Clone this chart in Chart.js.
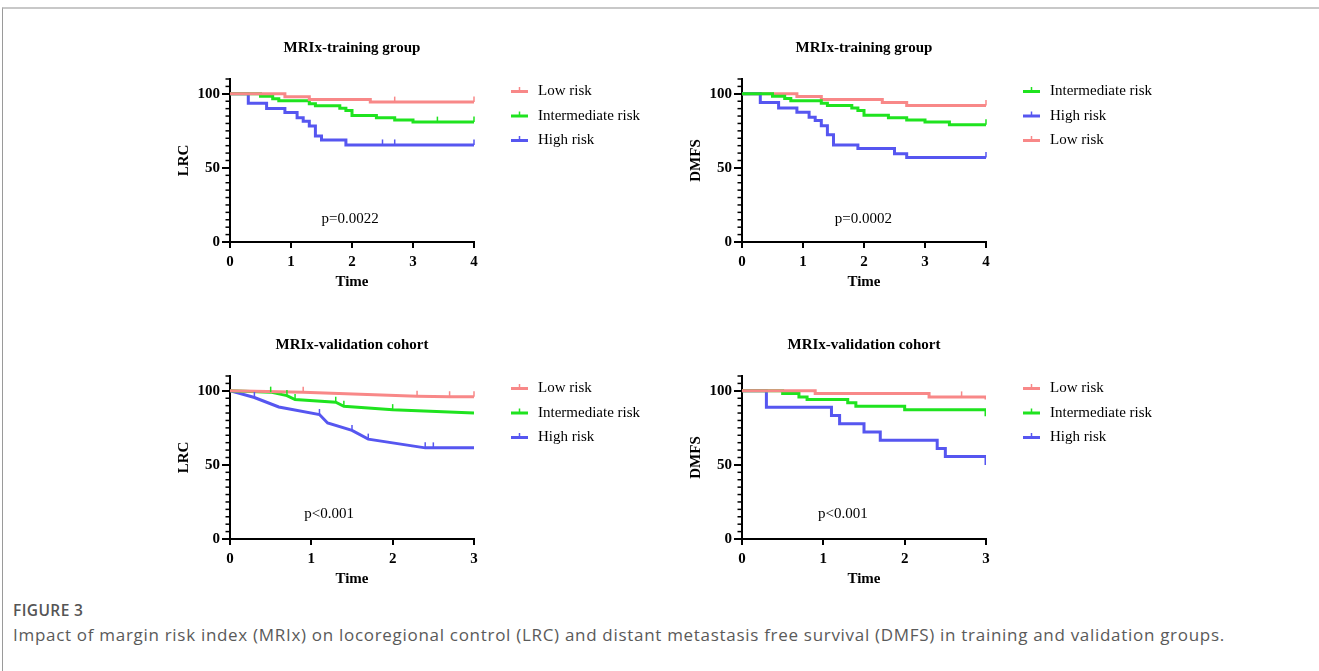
<!DOCTYPE html>
<html>
<head>
<meta charset="utf-8">
<script src="https://cdn.jsdelivr.net/npm/chart.js@4.4.0/dist/chart.umd.min.js"></script>
<style>
body { margin: 0; background: #fff; width: 1319px; height: 671px; overflow: hidden; position: relative; }
.frame { position: absolute; left: 2px; top: 7px; right: 0; height: 700px; border-top: 2px solid #c8c8c8; border-left: 1px solid #9a9a9a; }
.panel { position: absolute; }
#figLabel { position: absolute; left: 13px; top: 599px; font: 600 15.5px "Open Sans", sans-serif; color: #555; letter-spacing: 0.4px; }
#caption { position: absolute; left: 13px; top: 623px; font: 17px "Open Sans", sans-serif; color: #5a5a5a; white-space: nowrap; letter-spacing: 0.7px; }
</style>
</head>
<body>
<div class="frame"></div>
<canvas id="lrcTrain" class="panel" width="490" height="270" style="left:170px;top:31px"></canvas>
<canvas id="dmfsTrain" class="panel" width="490" height="270" style="left:682px;top:31px"></canvas>
<canvas id="lrcValid" class="panel" width="490" height="270" style="left:170px;top:328px"></canvas>
<canvas id="dmfsValid" class="panel" width="490" height="270" style="left:682px;top:328px"></canvas>
<div id="figLabel">FIGURE 3</div>
<div id="caption">Impact of margin risk index (MRIx) on locoregional control (LRC) and distant metastasis free survival (DMFS) in training and validation groups.</div>
<script>
//colours of the three risk groups
const lowColor = "#f88888";
const midColor = "#1fe31f";
const highColor = "#5656f0";

//each point is [time, survival %, censored tick (1) or not]
//LRC, training group
const lrcTrainLow = [[0,100],[0.9,98.1],[1.3,96.2],[2.3,94.4],[2.7,94.4,1],[4,94.4,1]];
const lrcTrainMid = [[0,100],[0.5,98.4],[0.7,96.7],[0.8,95.3],[1.3,93.3],[1.4,91.9],[1.8,90.3],[1.9,88.7],[2.0,85.4],[2.4,83.8],[2.7,82.4],[3.0,80.9],[3.4,80.9,1],[4,80.9,1]];
const lrcTrainHigh = [[0,100],[0.3,93.7],[0.6,90.1],[0.9,87.4],[1.1,83.8],[1.2,81.5],[1.3,78.2],[1.4,71.6],[1.5,68.9],[1.9,65.5],[2.5,65.5,1],[2.7,65.5,1],[4,65.5,1]];
//DMFS, training group
const dmfsTrainLow = [[0,100],[0.9,98.2],[1.3,96.2],[2.3,94.1],[2.7,92.1],[4,92.1,1]];
const dmfsTrainMid = [[0,100],[0.5,98.4],[0.7,96.8],[0.8,95.3],[1.3,93.7],[1.4,92.1],[1.8,90.5],[1.9,88.7],[2.0,85.6],[2.4,83.8],[2.7,82.4],[3.0,80.9],[3.4,79.1],[4,79.1,1]];
const dmfsTrainHigh = [[0,100],[0.3,94.1],[0.6,90.5],[0.9,87.6],[1.1,84.2],[1.2,82.0],[1.3,78.4],[1.4,72.3],[1.5,65.5],[1.9,63.1],[2.5,59.5],[2.7,57.0],[4,57.0,1]];
//LRC, validation cohort (drawn as straight segments)
const lrcValidLow = [[0,100],[0.9,99.0,1],[2.3,96.3,1],[2.7,96.0,1],[3,96.0,1]];
const lrcValidMid = [[0,100],[0.5,99.1,1],[0.7,96.8,1],[0.8,94.1,1],[1.3,92.3,1],[1.4,89.6,1],[2.0,87.3,1],[3,85.1]];
const lrcValidHigh = [[0,100],[0.3,95.5,1],[0.6,89.1],[1.1,84.0,1],[1.2,78.3],[1.5,73.3,1],[1.7,67.4,1],[2.4,61.5,1],[2.5,61.5,1],[3,61.5]];
//DMFS, validation cohort
const dmfsValidLow = [[0,100],[0.9,98.2],[2.3,95.9],[2.7,95.9,1],[3,94.1]];
const dmfsValidMid = [[0,100],[0.5,98.2],[0.7,95.9],[0.8,94.1],[1.3,91.9],[1.4,89.6],[2.0,87.3],[3,82.8]];
const dmfsValidHigh = [[0,100],[0.3,88.9],[1.1,83.3],[1.2,77.8],[1.5,72.2],[1.7,66.7],[2.4,61.1],[2.5,55.6],[3,50]];

const serif = "'Liberation Serif', 'Times New Roman', serif";

function toPoints(arr){
    return arr.map(p => ({x: p[0], y: p[1], c: p[2] ? 1 : 0}));
}
function series(label, arr, color, stepped){
    return {
        label: label,
        data: toPoints(arr),
        borderColor: color,
        backgroundColor: color,
        borderWidth: 3,
        pointRadius: 0,
        stepped: stepped ? "before" : false,
        tension: 0,
        fill: false
    };
}

//small vertical marks where patients were censored
const censorTicks = {
    id: "censorTicks",
    afterDatasetsDraw(chart){
        const ctx = chart.ctx;
        chart.data.datasets.forEach((ds, i) => {
            const meta = chart.getDatasetMeta(i);
            ctx.save();
            ctx.strokeStyle = ds.borderColor;
            ctx.lineWidth = 1.5;
            meta.data.forEach((pt, j) => {
                if(!ds.data[j].c) return;
                ctx.beginPath();
                ctx.moveTo(pt.x, pt.y);
                ctx.lineTo(pt.x, pt.y - 5.5);
                ctx.stroke();
            });
            ctx.restore();
        });
    }
};

//minor ticks every 5 on the y axis
const minorTicks = {
    id: "minorTicks",
    afterDraw(chart){
        const y = chart.scales.y, ctx = chart.ctx, left = chart.chartArea.left;
        ctx.save();
        ctx.strokeStyle = "#000";
        ctx.lineWidth = 1.5;
        for(let v = 5; v <= y.max; v += 5){
            if(v % 50 == 0) continue;
            const py = y.getPixelForValue(v);
            ctx.beginPath();
            ctx.moveTo(left - 4.5, py);
            ctx.lineTo(left, py);
            ctx.stroke();
        }
        ctx.restore();
    }
};

//legend to the right of the plot, line with a censor mark in the middle
const sideLegend = {
    id: "sideLegend",
    afterDraw(chart){
        const ctx = chart.ctx, area = chart.chartArea;
        ctx.save();
        ctx.font = "15px " + serif;
        ctx.textBaseline = "middle";
        ctx.fillStyle = "#000";
        chart.data.datasets.forEach((ds, i) => {
            const yy = area.top + 12.5 + i * 24.5;
            const x0 = area.right + 37;
            ctx.strokeStyle = ds.borderColor;
            ctx.lineWidth = 3;
            ctx.beginPath();
            ctx.moveTo(x0, yy);
            ctx.lineTo(x0 + 17, yy);
            ctx.stroke();
            ctx.lineWidth = 1.5;
            ctx.beginPath();
            ctx.moveTo(x0 + 8.5, yy);
            ctx.lineTo(x0 + 8.5, yy - 4.5);
            ctx.stroke();
            ctx.fillText(ds.label, x0 + 27, yy);
        });
        ctx.restore();
    }
};

//p value text placed in data coordinates
const pText = {
    id: "pText",
    afterDraw(chart, args, opts){
        const ctx = chart.ctx;
        ctx.save();
        ctx.font = "15px " + serif;
        ctx.textAlign = "center";
        ctx.textBaseline = "middle";
        ctx.fillStyle = "#000";
        ctx.fillText(opts.text, chart.scales.x.getPixelForValue(opts.x), chart.scales.y.getPixelForValue(opts.y));
        ctx.restore();
    }
};

function makeChart(id, title, yTitle, maxX, datasets, p){
    return new Chart(document.getElementById(id), {
        type: "line",
        data: {datasets: datasets},
        options: {
            responsive: false,
            animation: false,
            events: [],
            layout: {padding: {left: 0, right: 186, top: 0, bottom: 0}},
            plugins: {
                legend: {display: false},
                tooltip: {enabled: false},
                title: {
                    display: true,
                    fullSize: false,
                    text: title,
                    color: "#000",
                    font: {family: serif, size: 15, weight: "bold"},
                    padding: {top: 8, bottom: 22}
                },
                pText: p
            },
            scales: {
                x: {
                    type: "linear",
                    min: 0,
                    max: maxX,
                    ticks: {stepSize: 1, color: "#000", padding: 5, font: {family: serif, size: 15, weight: "bold"}},
                    grid: {drawOnChartArea: false, drawTicks: true, tickLength: 6, color: "#000", lineWidth: 2},
                    border: {color: "#000", width: 2},
                    title: {display: true, text: "Time", color: "#000", font: {family: serif, size: 15, weight: "bold"}, padding: {top: 0, bottom: 9.5}},
                    afterFit: s => { s.height = 59; }
                },
                y: {
                    min: 0,
                    max: 110,
                    ticks: {stepSize: 50, includeBounds: false, color: "#000", padding: 2, font: {family: serif, size: 15, weight: "bold"}},
                    grid: {drawOnChartArea: false, drawTicks: true, tickLength: 8, color: "#000", lineWidth: 2},
                    border: {color: "#000", width: 2},
                    title: {display: true, text: yTitle, color: "#000", font: {family: serif, size: 15, weight: "bold"}, padding: {top: 5, bottom: 0}},
                    afterFit: s => { s.width = 60; }
                }
            }
        },
        plugins: [censorTicks, minorTicks, sideLegend, pText]
    });
}

makeChart("lrcTrain", "MRIx-training group", "LRC", 4, [
    series("Low risk", lrcTrainLow, lowColor, true),
    series("Intermediate risk", lrcTrainMid, midColor, true),
    series("High risk", lrcTrainHigh, highColor, true)
], {text: "p=0.0022", x: 1.97, y: 15.5});

makeChart("dmfsTrain", "MRIx-training group", "DMFS", 4, [
    series("Intermediate risk", dmfsTrainMid, midColor, true),
    series("High risk", dmfsTrainHigh, highColor, true),
    series("Low risk", dmfsTrainLow, lowColor, true)
], {text: "p=0.0002", x: 1.99, y: 15.5});

makeChart("lrcValid", "MRIx-validation cohort", "LRC", 3, [
    series("Low risk", lrcValidLow, lowColor, false),
    series("Intermediate risk", lrcValidMid, midColor, false),
    series("High risk", lrcValidHigh, highColor, false)
], {text: "p<0.001", x: 1.22, y: 16.5});

makeChart("dmfsValid", "MRIx-validation cohort", "DMFS", 3, [
    series("Low risk", dmfsValidLow, lowColor, true),
    series("Intermediate risk", dmfsValidMid, midColor, true),
    series("High risk", dmfsValidHigh, highColor, true)
], {text: "p<0.001", x: 1.24, y: 16.5});
</script>
</body>
</html>
